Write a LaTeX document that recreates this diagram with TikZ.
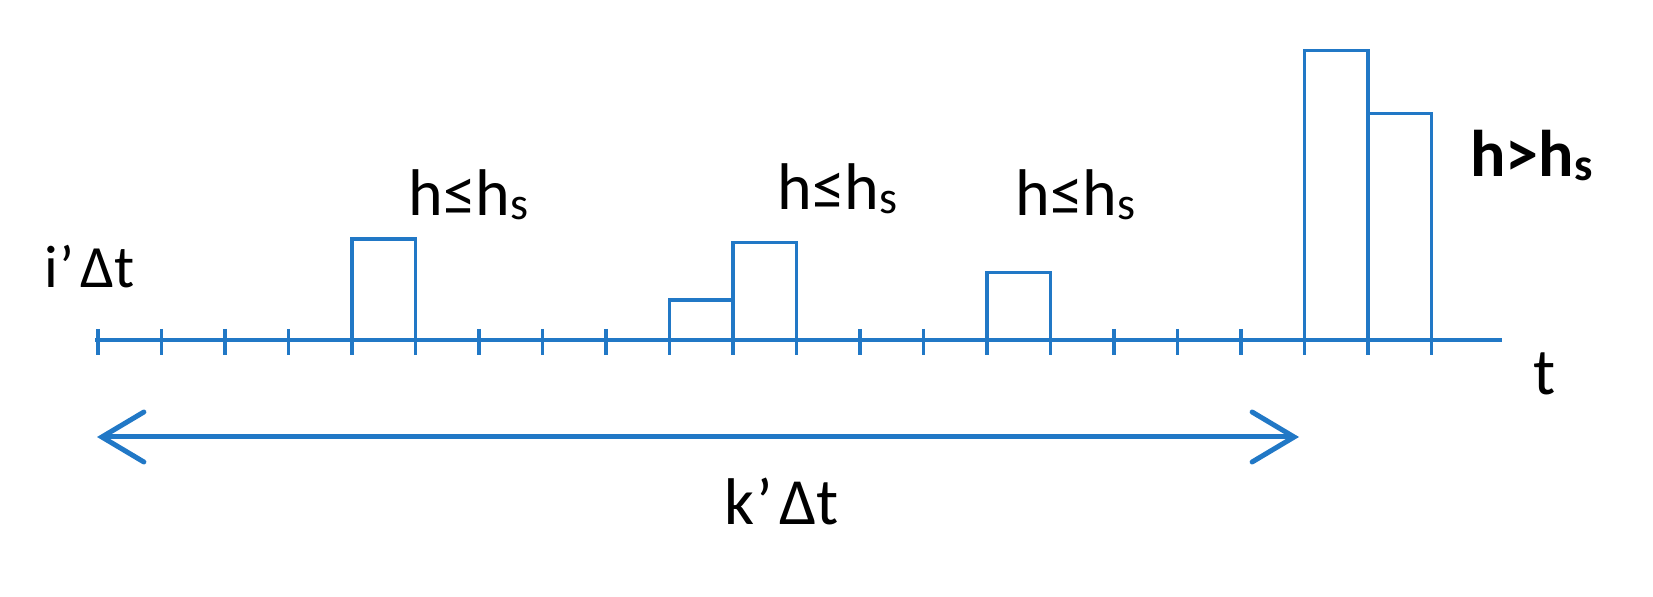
\documentclass[tikz,border=0pt]{standalone}
\usepackage{fontspec}
\setmainfont{Carlito}
\usetikzlibrary{arrows.meta}
\definecolor{cblue}{RGB}{33,120,198}
\newcommand{\hsubs}{h\raisebox{-2pt}{\fontsize{23}{25}\selectfont s}}
\begin{document}
\begin{tikzpicture}[x=0.5pt,y=-0.5pt,
  axisline/.style={draw=cblue,line width=2.4pt},
  tickline/.style={draw=cblue,line width=1.8pt},
  barline/.style={draw=cblue,line width=1.7pt},
  spanarrow/.style={draw=cblue,line width=2.5pt,line cap=round,
    {Straight Barb[length=21pt,width=25pt,line cap=round]}-{Straight Barb[length=21pt,width=25pt,line cap=round]}},
  lbl/.style={anchor=base west,inner sep=0pt,font=\fontsize{33}{36}\selectfont},
  smalllbl/.style={anchor=base west,inner sep=0pt,font=\fontsize{30}{33}\selectfont}]
\useasboundingbox (0,0) rectangle (1653,597);
% axis
\coordinate (a0) at (95,340);
\coordinate (a1) at (1502,340);
\draw[axisline] (a0) -- (a1);
\foreach \k in {0,...,21} \draw[tickline] ({98+63.5*\k},329) -- ({98+63.5*\k},355);
% bars
\draw[barline] (352,340) |- (415.5,239) -- (415.5,340);
\draw[barline] (669.5,340) |- (733,300);
\draw[barline] (733,340) |- (796.5,242.5) -- (796.5,340);
\draw[barline] (987,340) |- (1050.5,272.5) -- (1050.5,340);
\draw[barline] (1304.5,340) |- (1368,50.5) -- (1368,340);
\draw[barline] (1368,113.5) -- (1431.5,113.5) -- (1431.5,340);
% span arrow
\coordinate (L) at (97,437);
\coordinate (R) at (1299,437);
\draw[spanarrow] (L) -- (R);
% labels
\node[smalllbl] (idt) at (44,288) {i\kern0.8pt’\kern3ptΔt};
\node[lbl] (l1) at (408,216) {h≤\hsubs};
\node[lbl] (l2) at (777,210) {h≤\hsubs};
\node[lbl] (l3) at (1015,216) {h≤\hsubs};
\node[lbl,font=\fontsize{33}{36}\selectfont\bfseries] (l4) at (1470,177) {h>\hsubs};
\node[lbl] (tl) at (1533,395) {t};
\node[lbl] (kdt) at (724,525) {k\kern0.8pt’\kern3.5ptΔt};
\end{tikzpicture}
\end{document}
